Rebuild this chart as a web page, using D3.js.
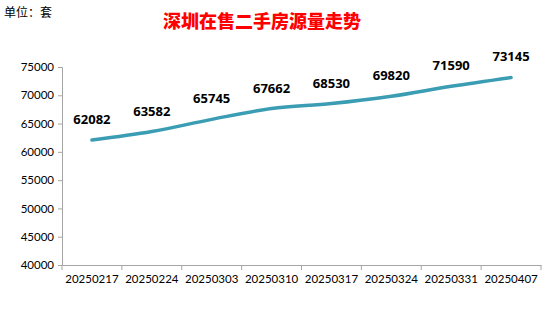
<!DOCTYPE html>
<html>
<head>
<meta charset="utf-8">
<script src="https://d3js.org/d3.v7.min.js"></script>
<style>
    body { margin: 0; background: #fff; }
    svg { display: block; }
</style>
</head>
<body>
<script>
    // data
    var weeks = ["20250217", "20250224", "20250303", "20250310", "20250317", "20250324", "20250331", "20250407"];
    var listings = [62082, 63582, 65745, 67662, 68530, 69820, 71590, 73145];
    var yTicks = [40000, 45000, 50000, 55000, 60000, 65000, 70000, 75000];

    var width = 557,
        height = 313;

    var svg = d3.select("body")
        .append("svg")
        .attr("width", width)
        .attr("height", height);

    var plotLeft = 62, plotRight = 541, plotTop = 67, plotBottom = 265;

    var x = d3.scaleBand()
        .domain(weeks)
        .range([plotLeft, plotRight]);

    var y = d3.scaleLinear()
        .domain([40000, 75000])
        .range([plotBottom, plotTop]);

    // title + unit
    svg.append("text")
        .attr("x", 262)
        .attr("y", 28)
        .attr("text-anchor", "middle")
        .attr("fill", "#ff0000")
        .attr("font-family", "'Noto Sans CJK SC'")
        .attr("font-weight", 900)
        .attr("font-size", 18)
        .text("深圳在售二手房源量走势");

    svg.append("text")
        .attr("x", 4)
        .attr("y", 17)
        .attr("font-family", "'Noto Sans CJK SC'")
        .attr("font-size", 12)
        .attr("fill", "#000")
        .text("单位：套");

    // y axis
    var yAxis = svg.append("g")
        .attr("transform", "translate(" + plotLeft + ",0)")
        .call(d3.axisLeft(y).tickValues(yTicks).tickFormat(d3.format("d")).tickSize(4).tickPadding(4));

    // x axis
    var xAxis = svg.append("g")
        .attr("transform", "translate(0," + plotBottom + ")")
        .call(d3.axisBottom(x).tickSize(0).tickPadding(10));

    // category boundary ticks, excel style
    var bounds = weeks.map(function (w) { return x(w); }).concat([plotRight]);
    xAxis.selectAll(".bound")
        .data(bounds)
        .enter()
        .append("line")
        .attr("class", "bound")
        .attr("x1", function (d) { return d; })
        .attr("x2", function (d) { return d; })
        .attr("y1", 0)
        .attr("y2", 5)
        .attr("stroke", "#a6a6a6");

    [yAxis, xAxis].forEach(function (a) {
        a.select(".domain").attr("stroke", "#a6a6a6");
        a.selectAll(".tick line").attr("stroke", "#a6a6a6");
        a.selectAll("text")
            .attr("font-family", "Lato, 'Open Sans', sans-serif")
            .attr("font-size", 11.5)
            .attr("fill", "#000");
    });

    // line
    var line = d3.line()
        .x(function (d, i) { return x(weeks[i]) + x.bandwidth() / 2; })
        .y(function (d) { return y(d); })
        .curve(d3.curveMonotoneX);

    svg.append("path")
        .datum(listings)
        .attr("fill", "none")
        .attr("stroke", "#3a9db3")
        .attr("stroke-width", 3.5)
        .attr("stroke-linecap", "round")
        .attr("d", line);

    // value labels
    svg.selectAll(".val")
        .data(listings)
        .enter()
        .append("text")
        .attr("class", "val")
        .attr("x", function (d, i) { return x(weeks[i]) + x.bandwidth() / 2; })
        .attr("y", function (d) { return y(d) - 16; })
        .attr("text-anchor", "middle")
        .attr("font-family", "'Open Sans', sans-serif")
        .attr("font-weight", "bold")
        .attr("font-size", 13)
        .attr("fill", "#000")
        .text(function (d) { return d; });
</script>
</body>
</html>
